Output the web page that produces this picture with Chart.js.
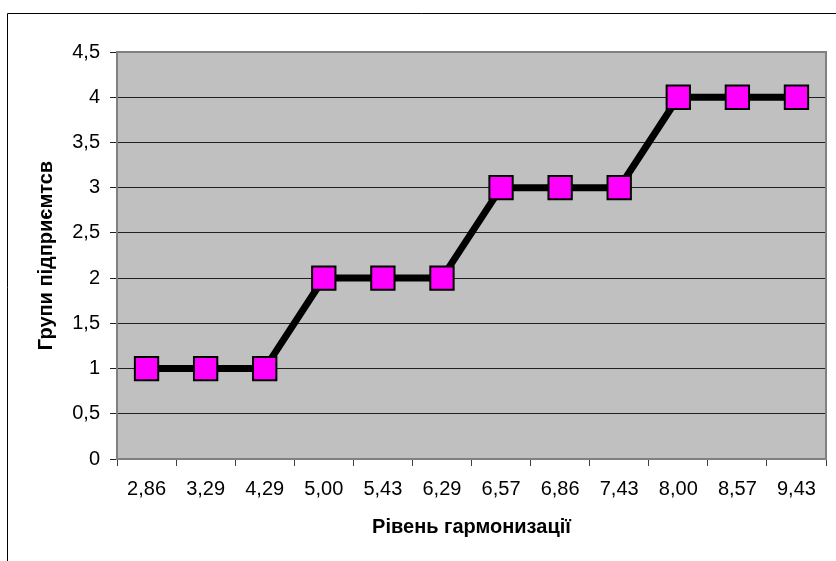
<html lang="uk">
<head>
    <meta charset="UTF-8">
    <script src="https://cdn.jsdelivr.net/npm/chart.js@4.4.0/dist/chart.umd.min.js"></script>
    <title>Групи підприємтсв</title>
    <style>
        body { margin: 0; background: #fff; }
        #wrap { width: 836px; height: 561px; }
    </style>
</head>
<body>
    <div id="wrap"><canvas id="chart" width="836" height="561"></canvas></div>
</body>
</html>

<script>
const xlabels = ['2,86', '3,29', '4,29', '5,00', '5,43', '6,29', '6,57', '6,86', '7,43', '8,00', '8,57', '9,43'];
const groups = [1, 1, 1, 2, 2, 2, 3, 3, 3, 4, 4, 4];
const yTitle = 'Групи підприємтсв';
const xTitle = 'Рівень гармонизації';

// grey plot area + outer frame, excel style
const excelBg = {
    id: 'excelBg',
    beforeDraw(chart) {
        const ctx = chart.ctx;
        const a = chart.chartArea;
        ctx.save();
        ctx.fillStyle = '#c0c0c0';
        ctx.fillRect(a.left, a.top, a.right - a.left, a.bottom - a.top);
        ctx.strokeStyle = '#000';
        ctx.lineWidth = 1;
        ctx.beginPath();
        ctx.moveTo(7.5, 561);
        ctx.lineTo(7.5, 13.5);
        ctx.lineTo(836, 13.5);
        ctx.stroke();
        ctx.restore();
    },
    afterDatasetsDraw(chart) {
        const ctx = chart.ctx;
        const a = chart.chartArea;
        ctx.save();
        ctx.strokeStyle = '#808080';
        ctx.lineWidth = 2;
        ctx.strokeRect(a.left, a.top, a.right - a.left, a.bottom - a.top);
        ctx.restore();
    }
};

Chart.defaults.font.family = 'Arial, "Liberation Sans", sans-serif';
Chart.defaults.color = '#000';

var ctx = document.getElementById('chart').getContext('2d');
var myChart = new Chart(ctx, {
    type: 'line',
    data: {
        labels: xlabels,
        datasets: [{
            data: groups,
            borderColor: '#000',
            borderWidth: 7,
            tension: 0,
            pointStyle: 'rect',
            pointRadius: 16.5,
            pointHoverRadius: 16.5,
            pointBackgroundColor: '#ff00ff',
            pointBorderColor: '#000',
            pointBorderWidth: 2
        }]
    },
    options: {
        responsive: false,
        animation: false,
        layout: { autoPadding: false, padding: { left: 30, top: 52, right: 10, bottom: 18 } },
        plugins: { legend: { display: false }, tooltip: { enabled: false } },
        scales: {
            x: {
                offset: true,
                grid: { offset: true, drawOnChartArea: false, color: '#404040', tickLength: 7 },
                border: { color: '#808080', width: 2 },
                ticks: { font: { size: 20 }, padding: 11, maxRotation: 0 },
                title: { display: true, text: xTitle, font: { size: 20, weight: 'bold' }, padding: { top: 3, bottom: 4 } }
            },
            y: {
                min: 0,
                max: 4.5,
                grid: { color: '#202020', tickLength: 7 },
                border: { color: '#808080', width: 2 },
                ticks: {
                    stepSize: 0.5,
                    font: { size: 20 },
                    padding: 10,
                    callback: function(value) {
                        return String(value).replace('.', ',');
                    }
                },
                title: { display: true, text: yTitle, font: { size: 20, weight: 'bold' }, padding: { top: 4, bottom: 4.2 } }
            }
        }
    },
    plugins: [excelBg]
});
</script>
